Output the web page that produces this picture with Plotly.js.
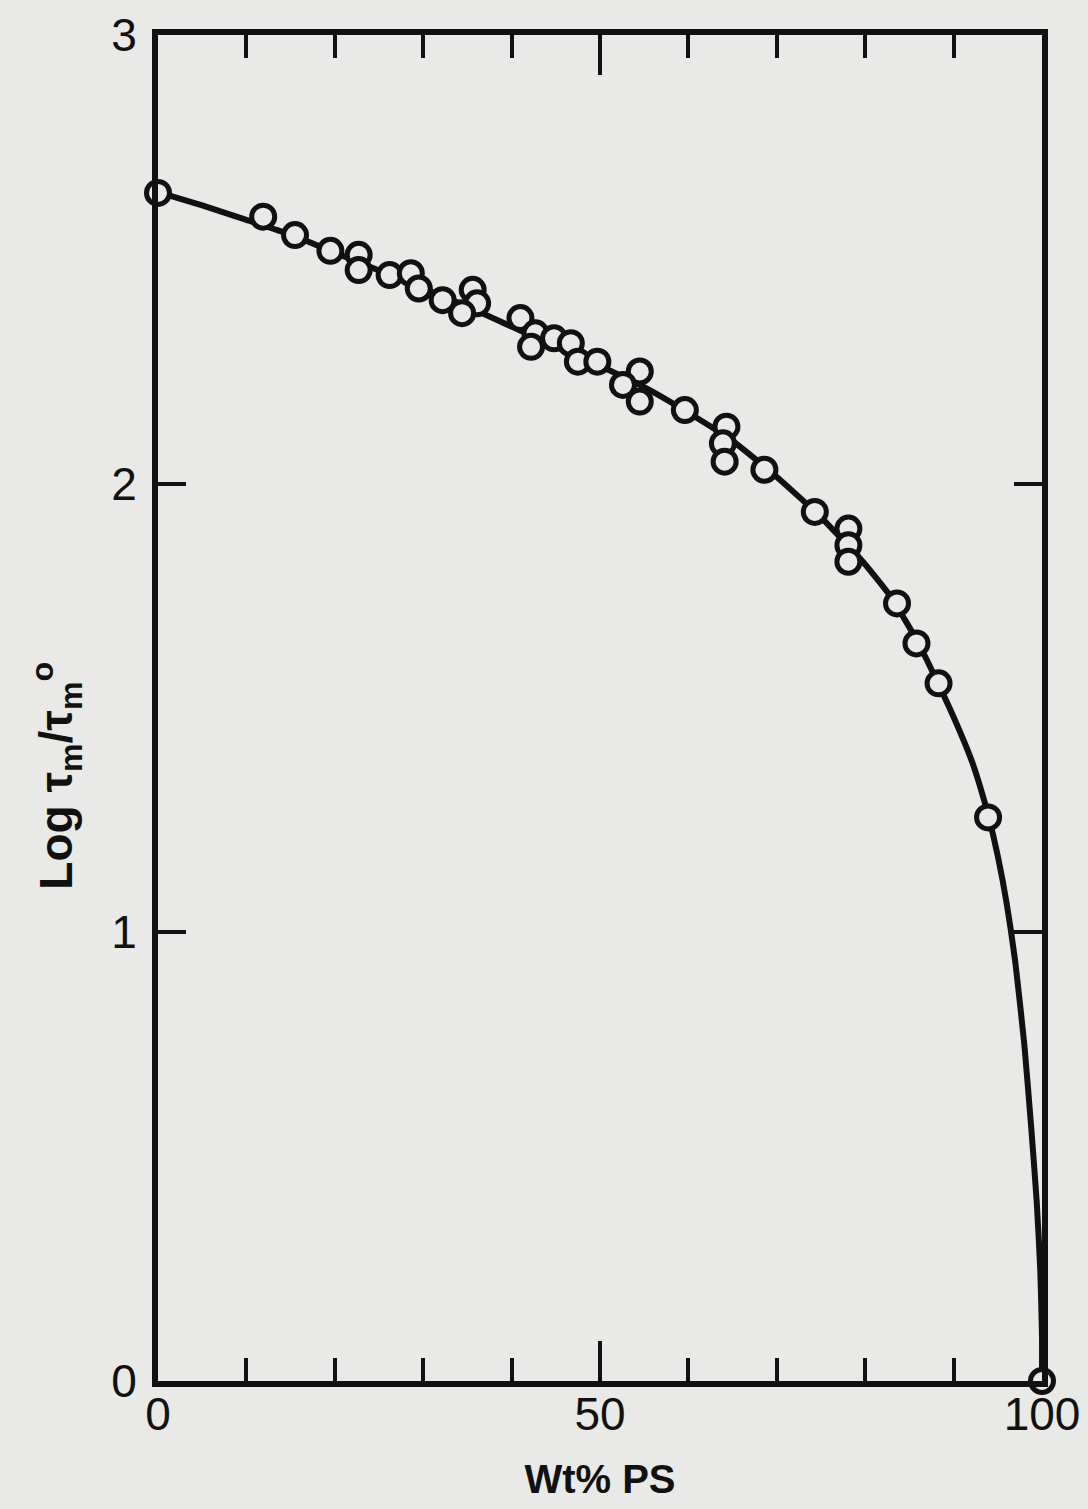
<!DOCTYPE html>
<html>
<head>
<meta charset="utf-8">
<script src="https://cdn.plot.ly/plotly-3.0.1.min.js"></script>
<style>html,body{margin:0;padding:0;background:#e9e9e7;}</style>
</head>
<body>
<div id="chart" style="width:1088px;height:1509px;"></div>
<script>
// measured data points (Wt% PS, log tau_m / tau_m^o)
const wtPS = [0, 11.9, 15.5, 19.5, 22.7, 22.7, 26.2, 28.6, 29.5, 32.2, 35.6, 36.1, 34.4, 41.0, 42.7, 42.2, 44.8, 46.7, 47.5, 49.7, 54.5, 52.6, 54.5, 59.6, 64.3, 63.9, 64.1, 68.6, 74.3, 78.1, 78.1, 78.1, 83.6, 85.8, 88.3, 93.9, 100];
const logTau = [2.648, 2.595, 2.554, 2.519, 2.510, 2.476, 2.465, 2.469, 2.435, 2.409, 2.432, 2.402, 2.380, 2.369, 2.335, 2.305, 2.324, 2.313, 2.272, 2.272, 2.250, 2.220, 2.183, 2.164, 2.127, 2.090, 2.049, 2.031, 1.937, 1.900, 1.863, 1.826, 1.733, 1.644, 1.555, 1.256, 0];

// smooth curve
const curveX = [0, 5, 10, 15, 20, 25, 30, 35, 40, 45, 50, 55, 60, 65, 70, 75, 80, 83, 86, 88, 90, 92, 93, 94, 95, 96, 97, 98, 98.8, 99.4, 99.8, 100, 100];
const curveY = [2.650, 2.620, 2.588, 2.555, 2.515, 2.475, 2.435, 2.395, 2.350, 2.305, 2.262, 2.215, 2.158, 2.095, 2.015, 1.925, 1.820, 1.745, 1.645, 1.565, 1.480, 1.385, 1.325, 1.255, 1.170, 1.065, 0.930, 0.750, 0.560, 0.400, 0.250, 0.100, 0];

const xTicks = [0, 50, 100];
const yTicks = [0, 1, 2, 3];
const xTitle = 'Wt% PS';
const yTitle = 'Log τ<sub>m</sub>/τ<sub>m</sub><sup>o</sup>';

const bg = '#e9e9e7';
const ink = '#111111';
const fontFam = '"Liberation Sans", Arial, sans-serif';

const traces = [
  {
    x: curveX, y: curveY, mode: 'lines', type: 'scatter',
    line: {color: ink, width: 6, shape: 'spline', smoothing: 0.5},
    hoverinfo: 'skip', showlegend: false
  },
  {
    x: wtPS, y: logTau, mode: 'markers', type: 'scatter',
    marker: {symbol: 'circle', size: 23, color: bg, line: {color: ink, width: 5}},
    cliponaxis: false, showlegend: false
  }
];

const layout = {
  width: 1088, height: 1509,
  margin: {l: 158, r: 46, t: 35, b: 128},
  paper_bgcolor: bg, plot_bgcolor: bg,
  font: {family: fontFam, color: ink},
  xaxis: {
    range: [0, 100], tickvals: xTicks, ticktext: xTicks.map(String),
    ticks: 'inside', ticklen: 40, tickwidth: 4, tickcolor: ink,
    minor: {dtick: 10, tick0: 0, ticks: 'inside', ticklen: 23, tickwidth: 4, tickcolor: ink},
    showline: true, linewidth: 6, linecolor: ink, mirror: 'ticks',
    showgrid: false, zeroline: false,
    tickfont: {size: 46, family: fontFam, color: ink},
    ticklabelstandoff: -12,
    title: {text: xTitle, font: {size: 40, family: fontFam, color: ink, weight: 'bold'}, standoff: 28}
  },
  yaxis: {
    range: [0, 3], tickvals: yTicks, ticktext: yTicks.map(String),
    ticks: 'inside', ticklen: 28, tickwidth: 4, tickcolor: ink,
    showline: true, linewidth: 6, linecolor: ink, mirror: 'ticks',
    showgrid: false, zeroline: false,
    tickfont: {size: 46, family: fontFam, color: ink},
    ticklabelstandoff: 6,
    title: {text: ''}
  },
  annotations: [{
    text: yTitle, xref: 'paper', yref: 'paper',
    x: -0.115, y: 0.45, xanchor: 'center', yanchor: 'middle',
    textangle: -90, showarrow: false,
    font: {size: 46, family: fontFam, color: ink, weight: 'bold'}
  }]
};

Plotly.newPlot('chart', traces, layout, {displayModeBar: false, staticPlot: true});
</script>
</body>
</html>
